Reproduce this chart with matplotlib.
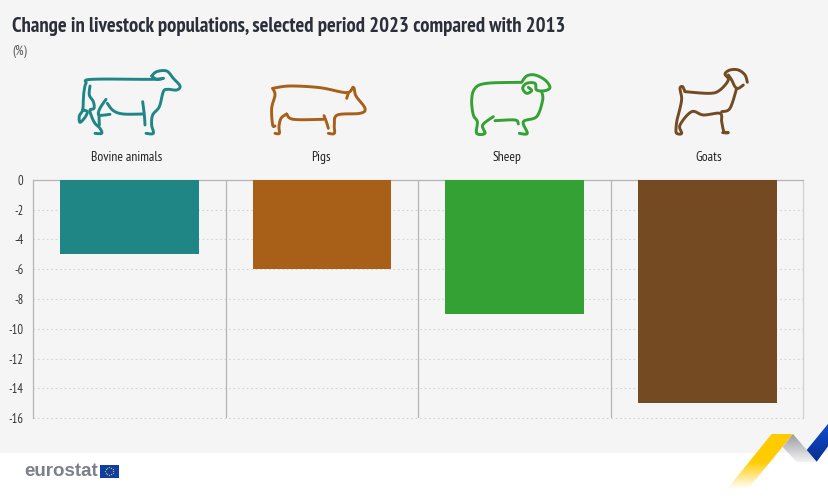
import numpy as np
import matplotlib
matplotlib.use('Agg')
import matplotlib.pyplot as plt
from matplotlib import font_manager as fm
from matplotlib.patches import Polygon, Rectangle
from matplotlib.transforms import ScaledTranslation

categories = ['Bovine animals', 'Pigs', 'Sheep', 'Goats']
changes = [-5, -6, -9, -15]
colors = ['#1f8585', '#a85f18', '#34a135', '#734a22']
y_ticks = [0, -2, -4, -6, -8, -10, -12, -14, -16]

title = 'Change in livestock populations, selected period 2023 compared with 2013'
unit = '(%)'

W, H = 829, 497
BG = '#f5f5f5'

# closest narrow face available, Lato if none of them is installed
installed = {f.name for f in fm.fontManager.ttflist}
narrow = next((n for n in ['PT Sans Narrow', 'Open Sans Condensed', 'Roboto Condensed'] if n in installed), 'Lato')
plt.rcParams['font.family'] = [narrow, 'DejaVu Sans']

fig = plt.figure(figsize=(W / 100, H / 100), dpi=100, facecolor='white')

# overlay in pixel coordinates for background, icons and logo
bg = fig.add_axes([0, 0, 1, 1], zorder=0)
bg.set_xlim(0, W)
bg.set_ylim(H, 0)
bg.axis('off')
bg.add_patch(Rectangle((0, 0), W, 453, color=BG, lw=0))

ax = fig.add_axes([33 / W, 1 - 418 / H, 770.5 / W, 238 / H], zorder=1)
ax.patch.set_alpha(0)
x = np.arange(len(categories))
ax.bar(x, changes, width=0.72, color=colors, zorder=3)
ax.set_xlim(-0.5, 3.5)
ax.set_ylim(-16, 0)
ax.set_yticks(y_ticks)
ax.set_yticklabels([str(v) for v in y_ticks], fontsize=9, color='#333333')
ax.xaxis.tick_top()
ax.set_xticks(x)
ax.set_xticklabels(categories, fontsize=9.8, color='#222222')
ax.tick_params(axis='x', length=0, pad=11.5)
ax.tick_params(axis='y', length=0, pad=7)
# labels sit under the icons, not exactly over the bars
for lab, dx in zip(ax.get_xticklabels(), [-2.5, -1, -7.5, 2]):
    lab.set_transform(lab.get_transform() + ScaledTranslation(dx / 100, 0, fig.dpi_scale_trans))
ax.grid(axis='y', color='#d4d4d4', lw=0.8, ls=(0, (1.5, 2.5)), zorder=1)
for g in ax.get_ygridlines():
    g.set_clip_on(False)
for pos in x[:-1] + 0.5:
    ax.axvline(pos, color='#b5b5b5', lw=0.9, zorder=2)
ax.spines['bottom'].set_visible(False)
for side in ['top', 'left', 'right']:
    ax.spines[side].set_color('#b5b5b5')
    ax.spines[side].set_linewidth(0.9)
ax.spines['right'].set_color('#d0d0d0')

title_txt = fig.text(12 / W, 1 - 27 / H, title, fontsize=16, fontweight='bold', color='#2a2f3a', va='center', ha='left')
# fit the title to its width in the reference
renderer = fig.canvas.get_renderer()
title_txt.set_fontsize(16 * 555 / title_txt.get_window_extent(renderer).width)
fig.text(12 / W, 1 - 51 / H, unit, fontsize=9.5, style='italic', color='#555555', va='center', ha='left')


def smooth(pts, n=8):
    # Catmull-Rom through the traced points
    pts = np.array(pts, dtype=float)
    p = np.vstack([pts[0], pts, pts[-1]])
    out = [pts[0]]
    for i in range(1, len(p) - 2):
        for t in np.linspace(0, 1, n + 1)[1:]:
            out.append(0.5 * (2 * p[i] + (p[i + 1] - p[i - 1]) * t
                              + (2 * p[i - 1] - 5 * p[i] + 4 * p[i + 1] - p[i + 2]) * t ** 2
                              + (3 * p[i] - p[i - 1] - 3 * p[i + 1] + p[i + 2]) * t ** 3))
    return np.array(out)


def icon(strokes, color, ox=0, oy=0):
    for s in strokes:
        p = smooth(s)
        bg.plot(p[:, 0] / 3 + ox, p[:, 1] / 3 + oy, color=color, lw=2.1,
                solid_capstyle='round', solid_joinstyle='round')


cow = [
    [(490, 235), (455, 238), (275, 238), (258, 250), (252, 275), (250, 300), (248, 330), (238, 348), (240, 367), (255, 352), (262, 335), (248, 330)],
    [(270, 258), (268, 285), (280, 305), (282, 325), (270, 330), (275, 350), (285, 370), (300, 385), (305, 400), (285, 400)],
    [(455, 228), (470, 215), (500, 213), (520, 235), (540, 258), (530, 270), (503, 268), (490, 275), (478, 320), (458, 345), (455, 375), (460, 400), (438, 400)],
    [(455, 228), (470, 238), (490, 235)],
    [(428, 305), (433, 345), (435, 375)],
    [(322, 310), (340, 332), (370, 342), (430, 342)],
    [(318, 298), (300, 325), (297, 345), (330, 343)],
    [(297, 345), (298, 375)],
]
pig = [
    [(818, 265), (870, 258), (960, 263), (1040, 278), (1060, 262), (1068, 288), (1095, 325), (1080, 340), (1012, 345), (1003, 375), (1003, 400), (985, 400)],
    [(1040, 295), (1045, 280)],
    [(818, 265), (825, 285), (815, 325), (818, 375), (825, 378)],
    [(972, 347), (980, 368), (985, 385)],
    [(860, 342), (880, 358), (970, 358)],
    [(860, 342), (843, 355), (837, 380), (838, 400), (825, 400)],
]
sheep = [
    [(302, 97), (200, 100), (165, 115), (155, 150), (160, 195), (172, 215), (170, 250), (195, 250), (188, 225), (220, 200)],
    [(225, 212), (285, 210), (295, 222)],
    [(298, 250), (322, 250), (310, 215), (350, 200), (368, 150), (365, 125)],
    [(305, 97), (320, 78), (345, 75), (375, 90), (390, 112), (375, 122), (350, 120), (345, 100), (320, 100), (308, 115), (320, 130), (335, 122), (325, 112)],
]
goat = [
    [(795, 125), (788, 110), (780, 115), (785, 145), (780, 175), (772, 205), (768, 235), (770, 250), (785, 250), (780, 225), (815, 185), (850, 195), (900, 190), (905, 215), (912, 245), (925, 248), (908, 248)],
    [(795, 125), (870, 130), (900, 120), (925, 90), (915, 72), (930, 60), (955, 60), (975, 75), (982, 97)],
    [(925, 75), (935, 90), (945, 110), (955, 115), (970, 105)],
    [(950, 115), (930, 175), (905, 185)],
]
icon(cow, colors[0])
icon(pig, colors[1])
icon(sheep, colors[2], 420, 50)
icon(goat, colors[3], 420, 50)


def ribbon(pts, cmap_cols, extent):
    grad = np.linspace(0, 1, 128).reshape(-1, 1)
    cmap = matplotlib.colors.LinearSegmentedColormap.from_list('r', cmap_cols)
    im = bg.imshow(grad, cmap=cmap, extent=extent, aspect='auto', origin='upper', zorder=2)
    im.set_clip_path(Polygon(pts, transform=bg.transData))


ribbon([(771.7, 434), (793, 434), (748, 489), (727, 489)],
       ['#ffcc00', '#ffcc00', '#ffffff'], (727, 793, 489, 434))
ribbon([(793, 434), (816.7, 461.7), (796.7, 462), (782.7, 447)],
       ['#9a9ca3', '#f2f2f2'], (782, 817, 462, 434))
ribbon([(829, 422.7), (829, 445), (816.7, 461.7), (806.7, 450)],
       ['#0f4fd0', '#0a2f8f'], (806, 829, 462, 422))
bg.set_xlim(0, W)
bg.set_ylim(H, 0)

# eurostat logo
bg.text(24, 471, 'eurostat', fontsize=13.5, fontweight='bold', color='#7c808c', va='center', ha='left',
        family=['Liberation Sans', 'DejaVu Sans'])
bg.add_patch(Rectangle((100, 464.5), 19, 13, color='#0f3fa6', lw=0))
angles = np.arange(12) * np.pi / 6
bg.scatter(109.5 + 4 * np.cos(angles), 471 + 4 * np.sin(angles), s=0.8, color='#d8c040', lw=0)

fig.savefig('out.png', dpi=100, facecolor='white')
